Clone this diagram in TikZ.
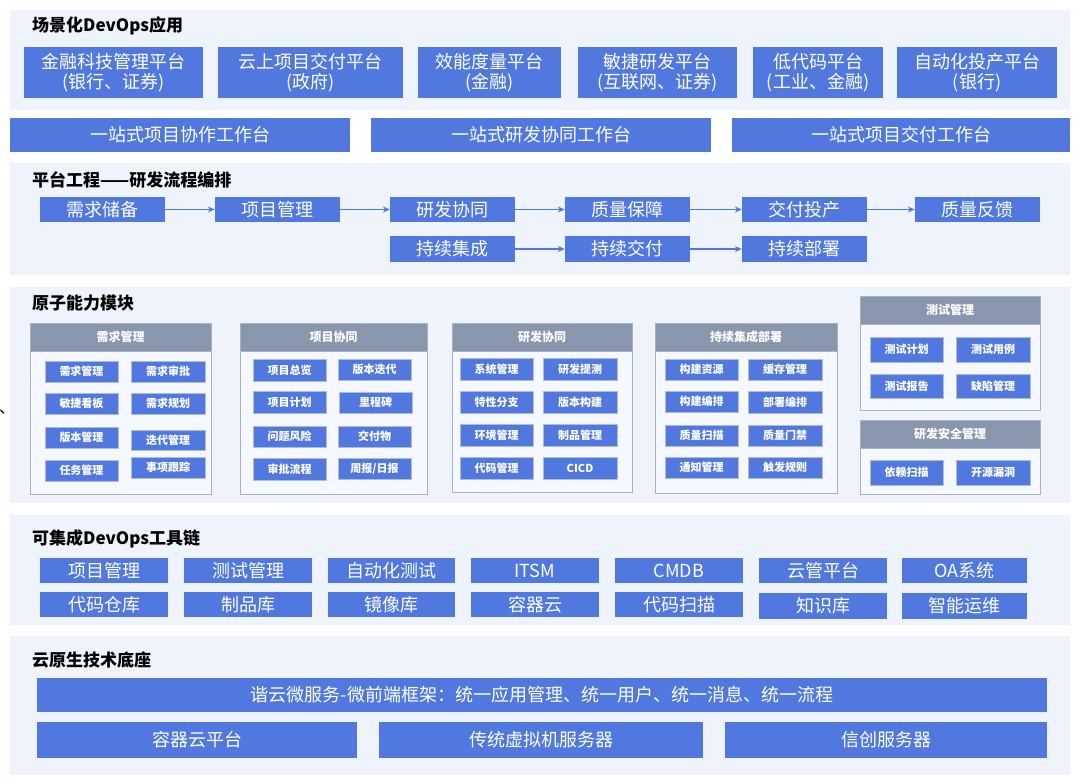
\documentclass[tikz,border=0pt]{standalone}
\usepackage{fontspec}
\setmainfont{Noto Sans CJK SC}
\usetikzlibrary{arrows.meta}
\definecolor{pbg}{HTML}{EEF3FC}
\definecolor{bl}{HTML}{5078DF}
\definecolor{gh}{HTML}{8896AE}
\definecolor{gbd}{HTML}{A8B2C2}
\definecolor{gbg}{HTML}{F5F8FE}
\tikzset{
 panel/.style={fill=pbg,draw=none},
 box/.style={fill=bl,draw=none,text=white,inner sep=0pt,align=center,font=\fontsize{18}{20}\selectfont},
 sbox/.style={box,font=\fontsize{11}{13}\selectfont\bfseries,draw=bl!70!black!40,line width=0.4pt},
 ghead/.style={fill=gh,draw=gbd,text=white,inner sep=0pt,font=\fontsize{12}{14}\selectfont\bfseries},
 gbody/.style={fill=gbg,draw=gbd,line width=1pt},
 ttl/.style={anchor=west,inner sep=0pt,font=\fontsize{17}{19}\selectfont\bfseries},
 arr/.style={-{Stealth[length=7pt,width=6pt]},draw=bl,line width=1.2pt}
}
\newcommand\bx[7][box]{%
 \pgfmathsetmacro\bw{#5-#3}\pgfmathsetmacro\bh{#6-#4}%
 \node[#1,minimum width=\bw pt,minimum height=\bh pt] (#2) at ({(#3+#5)/2},{(#4+#6)/2}) {#7};}
\begin{document}
\begin{tikzpicture}[x=1pt,y=-1pt]
\useasboundingbox (0,0) rectangle (1080,781);
\fill[white] (0,0) rectangle (1080,781);
% section 1
\fill[panel] (10,10) rectangle (1070,110);
\node[ttl] (t1) at (32,26) {场景化DevOps应用};
\bx{a1}{24}{47}{203}{98}{金融科技管理平台\\(银行、证券)}
\bx{a2}{218}{47}{403}{98}{云上项目交付平台\\(政府)}
\bx{a3}{418}{47}{561}{98}{效能度量平台\\(金融)}
\bx{a4}{578}{47}{737}{98}{敏捷研发平台\\(互联网、证券)}
\bx{a5}{753}{47}{883}{98}{低代码平台\\(工业、金融)}
\bx{a6}{897}{47}{1057}{98}{自动化投产平台\\(银行)}
\bx{b1}{10}{118}{350}{152}{一站式项目协作工作台}
\bx{b2}{371}{118}{711}{152}{一站式研发协同工作台}
\bx{b3}{732}{118}{1070}{152}{一站式项目交付工作台}
% section 2
\fill[panel] (10,163) rectangle (1070,275);
\node[ttl] (t2) at (32,180) {平台工程——研发流程编排};
\bx{p1}{40}{197}{165}{222}{需求储备}
\bx{p2}{215}{197}{340}{222}{项目管理}
\bx{p3}{390}{197}{515}{222}{研发协同}
\bx{p4}{565}{197}{690}{222}{质量保障}
\bx{p5}{742}{197}{867}{222}{交付投产}
\bx{p6}{915}{197}{1040}{222}{质量反馈}
\bx{q1}{390}{236}{515}{262}{持续集成}
\bx{q2}{565}{236}{690}{262}{持续交付}
\bx{q3}{742}{236}{867}{262}{持续部署}
\foreach \u/\v in {p1/p2,p2/p3,p3/p4,p4/p5,p5/p6,q1/q2,q2/q3} \draw[arr] (\u) -- (\v);
% section 3
\fill[panel] (10,287) rectangle (1070,503);
\node[ttl] (t3) at (32,303) {原子能力模块};
\node[inner sep=0pt,font=\fontsize{16}{18}\selectfont] (dot) at (7,412) {、};
% groups
\newcommand\grp[6]{%
 \bx[gbody]{#1b}{#2}{#3}{#4}{#6}{}%
 \bx[ghead]{#1h}{#2}{#3}{#4}{#3+28}{#5}}
\grp{g1}{30}{323}{211}{需求管理}{494}
\grp{g2}{240}{323}{427}{项目协同}{494}
\grp{g3}{452}{323}{632}{研发协同}{492}
\grp{g4}{655}{323}{837}{持续集成部署}{493}
\grp{g5}{860}{296}{1040}{测试管理}{410}
\grp{g6}{860}{420}{1040}{研发安全管理}{494}
% g1
\bx[sbox]{c11}{45}{361}{118}{382}{需求管理}
\bx[sbox]{c12}{131}{361}{205}{382}{需求审批}
\bx[sbox]{c13}{45}{393}{118}{414}{敏捷看板}
\bx[sbox]{c14}{131}{393}{205}{414}{需求规划}
\bx[sbox]{c15}{45}{427}{118}{448}{版本管理}
\bx[sbox]{c16}{131}{430}{205}{450}{迭代管理}
\bx[sbox]{c17}{45}{460}{118}{481}{任务管理}
\bx[sbox]{c18}{131}{457}{205}{478}{事项跟踪}
% g2
\bx[sbox]{c21}{253}{359}{326}{381}{项目总览}
\bx[sbox]{c22}{338}{359}{411}{380}{版本迭代}
\bx[sbox]{c23}{253}{391}{326}{413}{项目计划}
\bx[sbox]{c24}{339}{392}{412}{413}{里程碑}
\bx[sbox]{c25}{253}{426}{326}{447}{问题风险}
\bx[sbox]{c26}{338}{426}{411}{447}{交付物}
\bx[sbox]{c27}{253}{458}{326}{480}{审批流程}
\bx[sbox]{c28}{338}{458}{411}{479}{周报/日报}
% g3
\bx[sbox]{c31}{460}{358}{533}{380}{系统管理}
\bx[sbox]{c32}{543}{358}{617}{380}{研发提测}
\bx[sbox]{c33}{460}{391}{533}{413}{特性分支}
\bx[sbox]{c34}{543}{391}{617}{413}{版本构建}
\bx[sbox]{c35}{460}{424}{533}{446}{环境管理}
\bx[sbox]{c36}{543}{424}{617}{446}{制品管理}
\bx[sbox]{c37}{460}{457}{533}{479}{代码管理}
\bx[sbox]{c38}{543}{457}{617}{479}{CICD}
% g4
\bx[sbox]{c41}{665}{359}{738}{380}{构建资源}
\bx[sbox]{c42}{748}{359}{822}{380}{缓存管理}
\bx[sbox]{c43}{665}{391}{738}{412}{构建编排}
\bx[sbox]{c44}{748}{391}{822}{413}{部署编排}
\bx[sbox]{c45}{665}{425}{738}{446}{质量扫描}
\bx[sbox]{c46}{748}{425}{822}{446}{质量门禁}
\bx[sbox]{c47}{665}{457}{738}{478}{通知管理}
\bx[sbox]{c48}{748}{457}{822}{478}{触发规则}
% g5
\bx[sbox]{c51}{870}{337}{943}{362}{测试计划}
\bx[sbox]{c52}{956}{337}{1030}{362}{测试用例}
\bx[sbox]{c53}{870}{374}{943}{398}{测试报告}
\bx[sbox]{c54}{956}{374}{1030}{398}{缺陷管理}
% g6
\bx[sbox]{c61}{870}{460}{943}{485}{依赖扫描}
\bx[sbox]{c62}{956}{460}{1030}{485}{开源漏洞}
% section 4
\fill[panel] (10,515) rectangle (1070,625);
\node[ttl] (t4) at (32,539) {可集成DevOps工具链};
\bx{d1}{40}{558}{168}{583}{项目管理}
\bx{d2}{184}{558}{312}{583}{测试管理}
\bx{d3}{328}{558}{455}{583}{自动化测试}
\bx{d4}{471}{558}{599}{583}{ITSM}
\bx{d5}{615}{558}{743}{583}{CMDB}
\bx{d6}{759}{558}{887}{583}{云管平台}
\bx{d7}{902}{558}{1027}{583}{OA系统}
\bx{e1}{40}{592}{168}{617}{代码仓库}
\bx{e2}{184}{592}{312}{617}{制品库}
\bx{e3}{328}{592}{455}{617}{镜像库}
\bx{e4}{471}{592}{599}{617}{容器云}
\bx{e5}{615}{592}{743}{617}{代码扫描}
\bx{e6}{759}{593}{887}{619}{知识库}
\bx{e7}{902}{593}{1027}{619}{智能运维}
% section 5
\fill[panel] (10,636) rectangle (1070,775);
\node[ttl] (t5) at (32,660) {云原生技术底座};
\bx{f1}{37}{678}{1047}{712}{谐云微服务-微前端框架：统一应用管理、统一用户、统一消息、统一流程}
\bx{f2}{37}{722}{357}{758}{容器云平台}
\bx{f3}{379}{722}{703}{758}{传统虚拟机服务器}
\bx{f4}{725}{722}{1047}{758}{信创服务器}
\end{tikzpicture}
\end{document}
